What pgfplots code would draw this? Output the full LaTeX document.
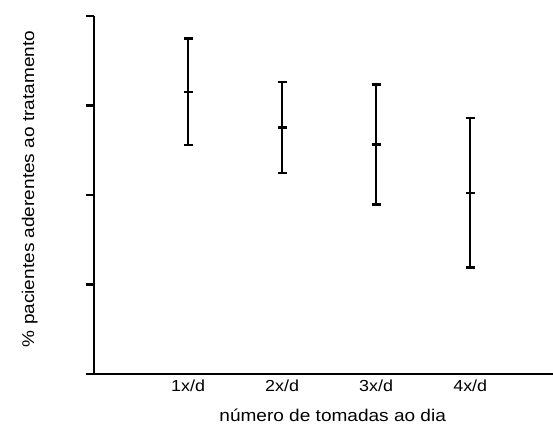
\documentclass[border=0pt]{standalone}
\usepackage{pgfplots}
\pgfplotsset{compat=1.18}
\usepackage{fontspec}
\setmainfont{Liberation Sans}
\newfontfamily\wide[FakeStretch=1.12]{Liberation Sans}

\begin{document}
\begin{tikzpicture}[x=1pt,y=1pt]
\begin{axis}[
    at={(94pt,-374pt)}, anchor=origin,
    scale only axis,
    width=459pt, height=358pt,
    xmin=0, xmax=4.88,
    ymin=0, ymax=100,
    axis lines=left,
    axis line style={-, line width=2.4pt},
    xtick={1,2,3,4},
    xticklabels={1x/d, 2x/d, 3x/d, 4x/d},
    x tick style={draw=none},
    ytick={0,25,50,75,100},
    yticklabels={},
    y tick style={line width=2.4pt, black},
    tick align=outside,
    major tick length=8pt,
    xticklabel style={font=\wide\fontsize{16}{18}\selectfont, anchor=base, yshift=-9pt},
    xlabel={número de tomadas ao dia},
    ylabel={\% pacientes aderentes ao tratamento},
    xlabel style={font=\wide\fontsize{17}{19}\selectfont, at={(axis description cs:0.52,-0.134)}, anchor=base},
    ylabel style={font=\wide\fontsize{17}{19}\selectfont, at={(axis description cs:-0.1307,0.517)}, anchor=base, rotate=0},
    clip=false,
]
\addplot[black, line width=2.4pt, only marks, mark=-, mark size=4.5pt,
    error bars/.cd, y dir=both, y explicit,
    error bar style={line width=2.4pt},
    error mark options={rotate=90, line width=2.4pt, mark size=4.5pt}]
coordinates {
    (1, 78.8) +- (0, 14.9)
    (2, 68.8) +- (0, 12.7)
    (3, 64.1) +- (0, 16.8)
    (4, 50.6) +- (0, 20.9)
};
\end{axis}
\pgfresetboundingbox
\path[use as bounding box] (0,0) rectangle (553,-433);
\end{tikzpicture}
\end{document}
